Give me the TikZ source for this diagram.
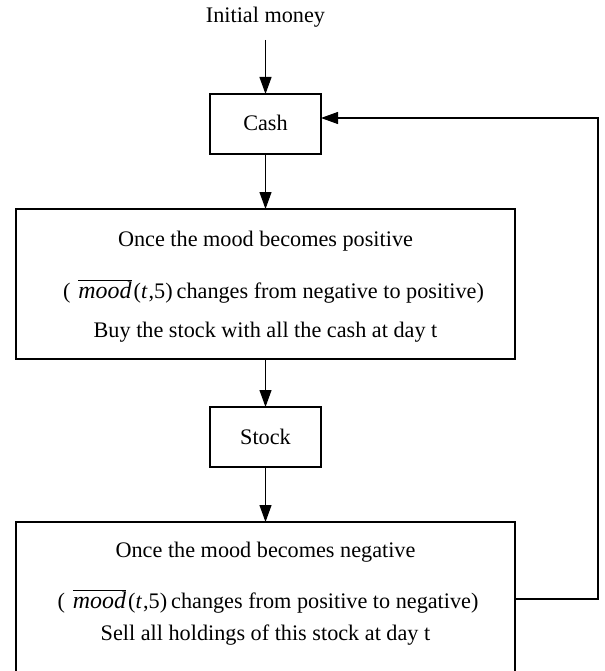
\documentclass[tikz,border=0pt]{standalone}
\usepackage{fontspec}
\setmainfont{Liberation Serif}
\usetikzlibrary{arrows.meta}
\newcommand{\moodterm}{\hspace{8bp}$\overline{\hbox{\fontsize{24}{26}\selectfont\itshape mood}}$\hspace{2bp}(\textit{t}\hspace{1bp},5)\hspace{4bp}}
\begin{document}
\begin{tikzpicture}[x=1bp,y=-1bp,
  every node/.style={font=\fontsize{22.3}{26}\selectfont},
  boxnode/.style={draw,line width=1.1bp,inner sep=0pt,outer sep=0pt},
  txt/.style={anchor=base,inner sep=0pt},
  arr/.style={line width=1.1bp,-{Triangle[length=17bp,width=12bp]}}]
\useasboundingbox (0,0) rectangle (605,671);
\node[anchor=base,inner xsep=0pt,inner ysep=12bp] (init) at (265.5,23) {Initial money};
\node[boxnode,minimum width=111bp,minimum height=60bp] (cash) at (265.5,124) {};
\node[txt] (cashtxt) at (265.5,131) {Cash};
\node[boxnode,minimum width=499bp,minimum height=150bp] (buy) at (265.5,284) {};
\node[txt] (buy1) at (265.5,246) {Once the mood becomes positive};
\node[txt] (buy2) at (273.5,298) {(\moodterm changes from negative to positive)};
\node[txt] (buy3) at (265.5,337) {Buy the stock with all the cash at day t};
\node[boxnode,minimum width=111bp,minimum height=60bp] (stock) at (265.5,437) {};
\node[txt] (stocktxt) at (265.5,444) {Stock};
\node[boxnode,minimum width=499bp,minimum height=150bp] (sell) at (265.5,597) {};
\node[txt] (sell1) at (265.5,557) {Once the mood becomes negative};
\node[txt] (sell2) at (268,608) {(\moodterm changes from positive to negative)};
\node[txt] (sell3) at (265.5,640.5) {Sell all holdings of this stock at day t};
\coordinate (fb1) at (598,599);
\coordinate (fb2) at (598,118);
\draw[arr] (init.south) -- (cash.north);
\draw[arr] (cash.south) -- (buy.north);
\draw[arr] (buy.south) -- (stock.north);
\draw[arr] (stock.south) -- (sell.north);
\draw[arr] (sell.east |- fb1) -- (fb1) -- (fb2) -- (cash.east |- fb2);
\end{tikzpicture}
\end{document}
